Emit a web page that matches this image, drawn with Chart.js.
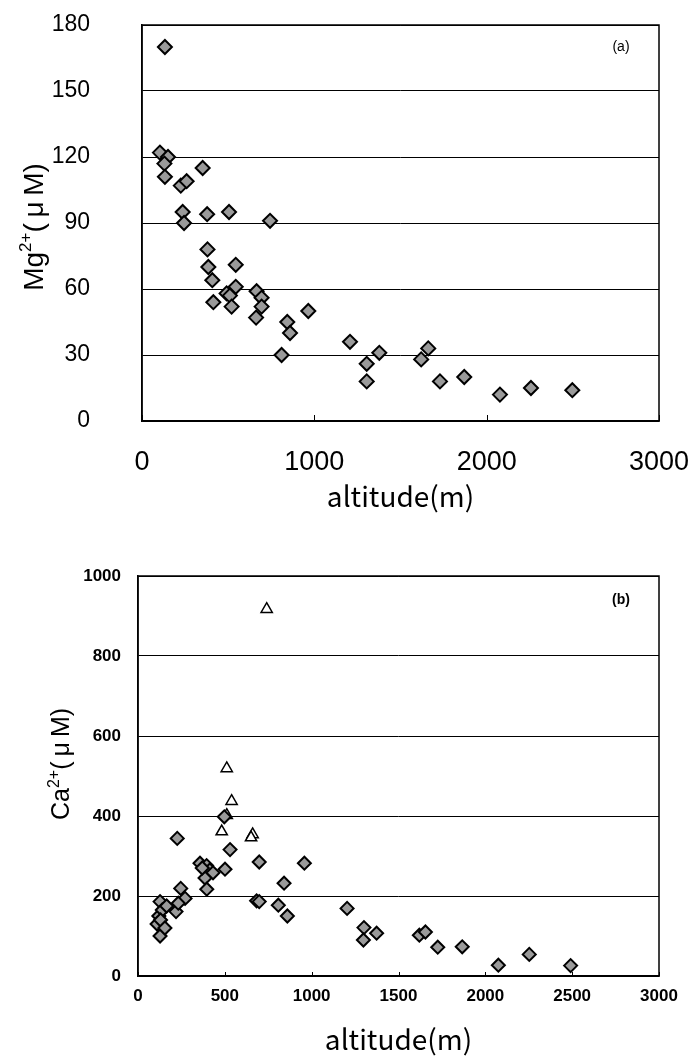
<!DOCTYPE html>
<html>
<head>
<meta charset="utf-8">
<script src="https://cdn.jsdelivr.net/npm/chart.js@4.4.1/dist/chart.umd.min.js"></script>
<style>
  html, body { margin: 0; padding: 0; background: #fff; }
  #wrap { position: relative; width: 694px; height: 1062px; }
  canvas { position: absolute; left: 0; }
  #chartA { top: 0; }
  #chartB { top: 530px; }
</style>
</head>
<body>
<div id="wrap">
  <canvas id="chartA" width="694" height="530"></canvas>
  <canvas id="chartB" width="694" height="532"></canvas>
</div>
<script>
// (a) Mg2+ vs altitude
const mgAltitude = [133, 104, 151, 130, 133, 225, 259, 352, 236, 244, 378, 505, 743, 380, 385, 408, 544, 414, 491, 510, 544, 520, 662, 665, 694, 694, 843, 859, 965, 810, 1207, 1304, 1304, 1377, 1620, 1661, 1729, 1870, 2077, 2257, 2497];
const mgValues = [170, 122, 120, 117, 111, 107, 109, 115, 95, 90, 94, 95, 91, 78, 70, 64, 71, 54, 58, 57, 61, 52, 47, 59, 56, 52, 45, 40, 50, 30, 36, 26, 18, 31, 28, 33, 18, 20, 12, 15, 14];

// (b) Ca2+ vs altitude, rombos y triangulos abiertos
const caAltitude = [127, 127, 120, 110, 140, 130, 155, 165, 219, 246, 271, 232, 226, 357, 395, 414, 386, 432, 370, 396, 497, 501, 530, 698, 683, 698, 841, 860, 808, 958, 1204, 1301, 1374, 1298, 1620, 1655, 1726, 1867, 2075, 2253, 2491];
const caValues = [186, 100, 150, 130, 165, 140, 120, 175, 161, 219, 194, 182, 344, 282, 276, 265, 245, 258, 270, 217, 398, 267, 316, 285, 188, 186, 232, 150, 177, 282, 169, 121, 107, 90, 102, 110, 72, 73, 27, 54, 26];
const caOpenAltitude = [741, 511, 539, 511, 482, 660, 651];
const caOpenValues = [917, 519, 437, 402, 361, 354, 346];

const altitudeTicksA = [0, 1000, 2000, 3000];
const altitudeTicksB = [0, 500, 1000, 1500, 2000, 2500, 3000];
const mgTicks = [0, 30, 60, 90, 120, 150, 180];
const caTicks = [0, 200, 400, 600, 800, 1000];

function puntos(xs, ys) {
    return xs.map((x, i) => ({ x, y: ys[i] }));
}

function fijarTicks(valores) {
    return (scale) => { scale.ticks = valores.map((v) => ({ value: v })); };
}

const marcoPlugin = {
    id: 'marco',
    beforeDatasetsDraw(chart, args, opts) {
        const { ctx, chartArea: a, scales } = chart;
        ctx.save();
        ctx.strokeStyle = '#000';
        ctx.lineWidth = 1.5;
        ctx.strokeRect(a.left, a.top, a.right - a.left, a.bottom - a.top);
        ctx.lineWidth = 1;
        scales.x.ticks.forEach((t) => {
            const px = Math.round(scales.x.getPixelForValue(t.value)) + 0.5;
            ctx.beginPath();
            ctx.moveTo(px, a.bottom);
            ctx.lineTo(px, a.bottom - opts.tick);
            ctx.stroke();
        });
        ctx.fillStyle = '#000';
        ctx.font = opts.font;
        ctx.textAlign = 'center';
        ctx.textBaseline = 'middle';
        ctx.fillText(opts.label, a.right - 38, a.top + opts.labelDy);

        // titulo del eje y con superindice
        const t = opts.yTitle;
        const base = t.size + "px 'Liberation Sans', Arial, sans-serif";
        const sup = Math.round(t.size * 0.62) + "px 'Liberation Sans', Arial, sans-serif";
        ctx.font = base;
        const w1 = ctx.measureText(t.ion).width;
        const w3 = ctx.measureText(t.unit).width;
        ctx.font = sup;
        const w2 = ctx.measureText(t.charge).width;
        ctx.translate(t.x, (a.top + a.bottom) / 2 + t.dy);
        ctx.rotate(-Math.PI / 2);
        ctx.textAlign = 'left';
        ctx.textBaseline = 'alphabetic';
        let px = -(w1 + w2 + w3) / 2;
        const baseY = t.size * 0.36;
        ctx.font = base;
        ctx.fillText(t.ion, px, baseY);
        px += w1;
        ctx.font = sup;
        ctx.fillText(t.charge, px, baseY - t.size * 0.42);
        px += w2;
        ctx.font = base;
        ctx.fillText(t.unit, px, baseY);
        ctx.restore();
    }
};

const rombo = {
    pointStyle: 'rectRot',
    pointRadius: 7,
    pointHoverRadius: 7,
    backgroundColor: '#9a9a9a',
    borderColor: '#000',
    pointBorderWidth: 2,
    showLine: false
};

function opcionesEscala(cfg) {
    return {
        responsive: false,
        animation: false,
        events: [],
        layout: { padding: cfg.padding },
        plugins: { legend: { display: false }, tooltip: { enabled: false }, marco: cfg.marco },
        scales: {
            x: {
                type: 'linear',
                min: 0,
                max: 3000,
                afterBuildTicks: fijarTicks(cfg.xTicks),
                afterFit: (s) => { s.height = cfg.xHeight; },
                grid: { display: true, drawOnChartArea: false, drawTicks: true, tickLength: cfg.xTickGap, tickColor: 'rgba(0,0,0,0)' },
                border: { display: true, color: '#000', width: 1.5 },
                ticks: { color: '#000', padding: 0, font: cfg.xTickFont, maxRotation: 0, callback: (v) => String(v) },
                title: { display: true, text: 'altitude(m)', color: '#000', font: { family: "'Noto Sans CJK JP', 'Noto Sans', sans-serif", size: 28 }, padding: 0 }
            },
            y: {
                type: 'linear',
                min: 0,
                max: cfg.yMax,
                afterBuildTicks: fijarTicks(cfg.yTicks),
                afterFit: (s) => { s.width = cfg.yWidth; },
                grid: { color: '#000', lineWidth: 1, drawTicks: true, tickLength: cfg.yTickGap, tickColor: 'rgba(0,0,0,0)' },
                border: { display: true, color: '#000', width: 1.5 },
                ticks: { color: '#000', padding: 0, font: cfg.yTickFont, callback: (v) => String(v) },
                title: { display: false }
            }
        }
    };
}

new Chart(document.getElementById('chartA'), {
    type: 'scatter',
    data: {
        datasets: [{ label: 'Mg', data: puntos(mgAltitude, mgValues), ...rombo }]
    },
    options: opcionesEscala({
        padding: { top: 25, right: 35, left: 0, bottom: 17 },
        xTicks: altitudeTicksA,
        yTicks: mgTicks,
        yMax: 180,
        xHeight: 92,
        yWidth: 142,
        xTickGap: 25,
        yTickGap: 52,
        xTickFont: { family: "'Liberation Sans', Arial, sans-serif", size: 27 },
        yTickFont: { family: "'Liberation Sans', Arial, sans-serif", size: 23 },
        marco: {
            tick: 6, label: '(a)', font: "14px 'Liberation Sans', Arial, sans-serif", labelDy: 22,
            yTitle: { ion: 'Mg', charge: '2+', unit: '(\u2009μ\u2009M)', size: 28, x: 33, dy: 4 }
        }
    }),
    plugins: [marcoPlugin]
});

new Chart(document.getElementById('chartB'), {
    type: 'scatter',
    data: {
        datasets: [
            { label: 'Ca', data: puntos(caAltitude, caValues), ...rombo, pointRadius: 6.5, pointHoverRadius: 6.5 },
            {
                label: 'Ca abierto',
                data: puntos(caOpenAltitude, caOpenValues),
                pointStyle: 'triangle',
                pointRadius: 6.5,
                pointHoverRadius: 6.5,
                backgroundColor: '#fff',
                borderColor: '#000',
                pointBorderWidth: 1.5,
                showLine: false
            }
        ]
    },
    options: opcionesEscala({
        padding: { top: 46, right: 35, left: 0, bottom: 6 },
        xTicks: altitudeTicksB,
        yTicks: caTicks,
        yMax: 1000,
        xHeight: 80,
        yWidth: 138,
        xTickGap: 10,
        yTickGap: 17,
        xTickFont: { family: "'Liberation Sans', Arial, sans-serif", size: 17, weight: 'bold' },
        yTickFont: { family: "'Liberation Sans', Arial, sans-serif", size: 17, weight: 'bold' },
        marco: {
            tick: 4, label: '(b)', font: "bold 14px 'Liberation Sans', Arial, sans-serif", labelDy: 24,
            yTitle: { ion: 'Ca', charge: '2+', unit: '(\u2009μ\u2009M)', size: 25, x: 60, dy: -12 }
        }
    }),
    plugins: [marcoPlugin]
});
</script>
</body>
</html>
